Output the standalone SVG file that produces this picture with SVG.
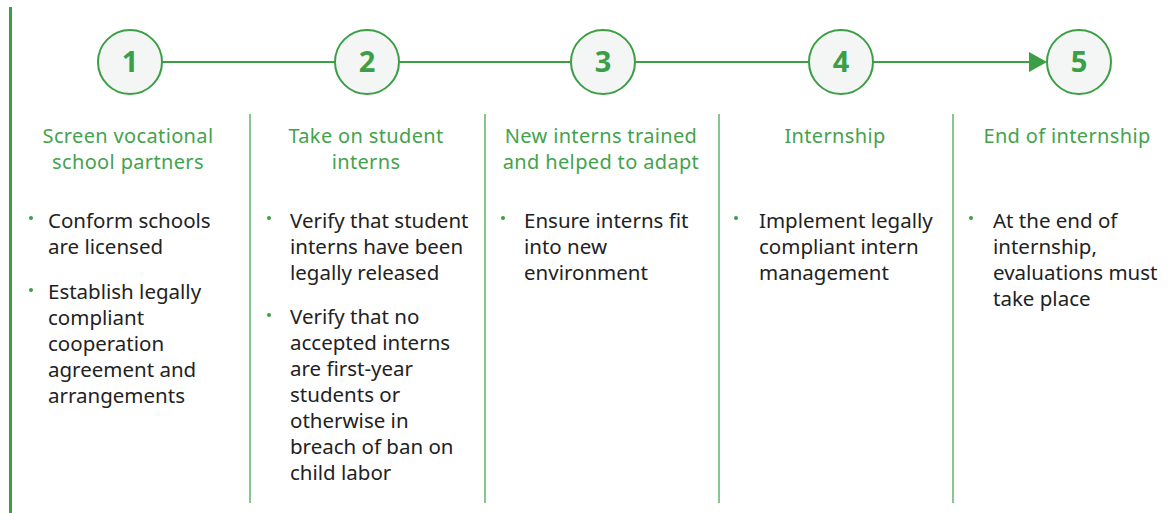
<svg xmlns="http://www.w3.org/2000/svg" width="1168" height="513" viewBox="0 0 1168 513">
<style>
.circ{fill:#f4f6f5;stroke:#3c9e45;stroke-width:2}
.num{font-family:"Noto Sans",sans-serif;font-weight:bold;font-size:29px;fill:#3c9e45;text-anchor:middle}
.head{font-family:"Noto Sans",sans-serif;font-size:20px;letter-spacing:0.35px;fill:#43a34b;text-anchor:middle}
.body{font-family:"Noto Sans",sans-serif;font-size:20.5px;fill:#222}
.dot{fill:#3c9e45}
.div{stroke:#3c9e45;stroke-width:1.2}
.conn{stroke:#3c9e45;stroke-width:2;fill:none}
</style>
<rect x="9" y="7" width="3" height="506" fill="#3c9e45"/>
<g id="connectors">
<line class="conn" x1="162" y1="62" x2="335" y2="62"/>
<line class="conn" x1="399" y1="62" x2="571" y2="62"/>
<line class="conn" x1="635" y1="62" x2="809" y2="62"/>
<path d="M873,62 H1030" class="conn"/>
<path d="M1029,52 L1047,62 L1029,72 Z" fill="#3c9e45"/>
</g>
<g id="dividers">
<line class="div" x1="250" y1="114" x2="250" y2="503"/>
<line class="div" x1="485" y1="114" x2="485" y2="503"/>
<line class="div" x1="719" y1="114" x2="719" y2="503"/>
<line class="div" x1="953" y1="114" x2="953" y2="503"/>
</g>
<g id="node1">
<circle class="circ" cx="130" cy="62" r="32"/>
<text class="num" x="130" y="72">1</text>
<text class="head" x="128" y="143">Screen vocational<tspan x="128" dy="25.5">school partners</tspan></text>
<circle class="dot" cx="31" cy="218" r="2"/>
<text class="body" x="48" y="228">Conform schools<tspan x="48" dy="26">are licensed</tspan></text>
<circle class="dot" cx="31" cy="290" r="2"/>
<text class="body" x="48" y="299">Establish legally<tspan x="48" dy="26">compliant</tspan><tspan x="48" dy="26">cooperation</tspan><tspan x="48" dy="26">agreement and</tspan><tspan x="48" dy="26">arrangements</tspan></text>
</g>
<g id="node2">
<circle class="circ" cx="367" cy="62" r="32"/>
<text class="num" x="367" y="72">2</text>
<text class="head" x="366" y="143">Take on student<tspan x="366" dy="25.5">interns</tspan></text>
<circle class="dot" cx="269" cy="218" r="2"/>
<text class="body" x="290" y="228">Verify that student<tspan x="290" dy="26">interns have been</tspan><tspan x="290" dy="26">legally released</tspan></text>
<circle class="dot" cx="269" cy="315" r="2"/>
<text class="body" x="290" y="324">Verify that no<tspan x="290" dy="26">accepted interns</tspan><tspan x="290" dy="26">are first-year</tspan><tspan x="290" dy="26">students or</tspan><tspan x="290" dy="26">otherwise in</tspan><tspan x="290" dy="26">breach of ban on</tspan><tspan x="290" dy="26">child labor</tspan></text>
</g>
<g id="node3">
<circle class="circ" cx="603" cy="62" r="32"/>
<text class="num" x="603" y="72">3</text>
<text class="head" x="601" y="143">New interns trained<tspan x="601" dy="25.5">and helped to adapt</tspan></text>
<circle class="dot" cx="503" cy="218" r="2"/>
<text class="body" x="524" y="228">Ensure interns fit<tspan x="524" dy="26">into new</tspan><tspan x="524" dy="26">environment</tspan></text>
</g>
<g id="node4">
<circle class="circ" cx="841" cy="62" r="32"/>
<text class="num" x="841" y="72">4</text>
<text class="head" x="835" y="143">Internship</text>
<circle class="dot" cx="736" cy="218" r="2"/>
<text class="body" x="759" y="228">Implement legally<tspan x="759" dy="26">compliant intern</tspan><tspan x="759" dy="26">management</tspan></text>
</g>
<g id="node5">
<circle class="circ" cx="1079" cy="62" r="32"/>
<text class="num" x="1079" y="72">5</text>
<text class="head" x="1067" y="143">End of internship</text>
<circle class="dot" cx="971" cy="218" r="2"/>
<text class="body" x="993" y="228">At the end of<tspan x="993" dy="26">internship,</tspan><tspan x="993" dy="26">evaluations must</tspan><tspan x="993" dy="26">take place</tspan></text>
</g>
</svg>
